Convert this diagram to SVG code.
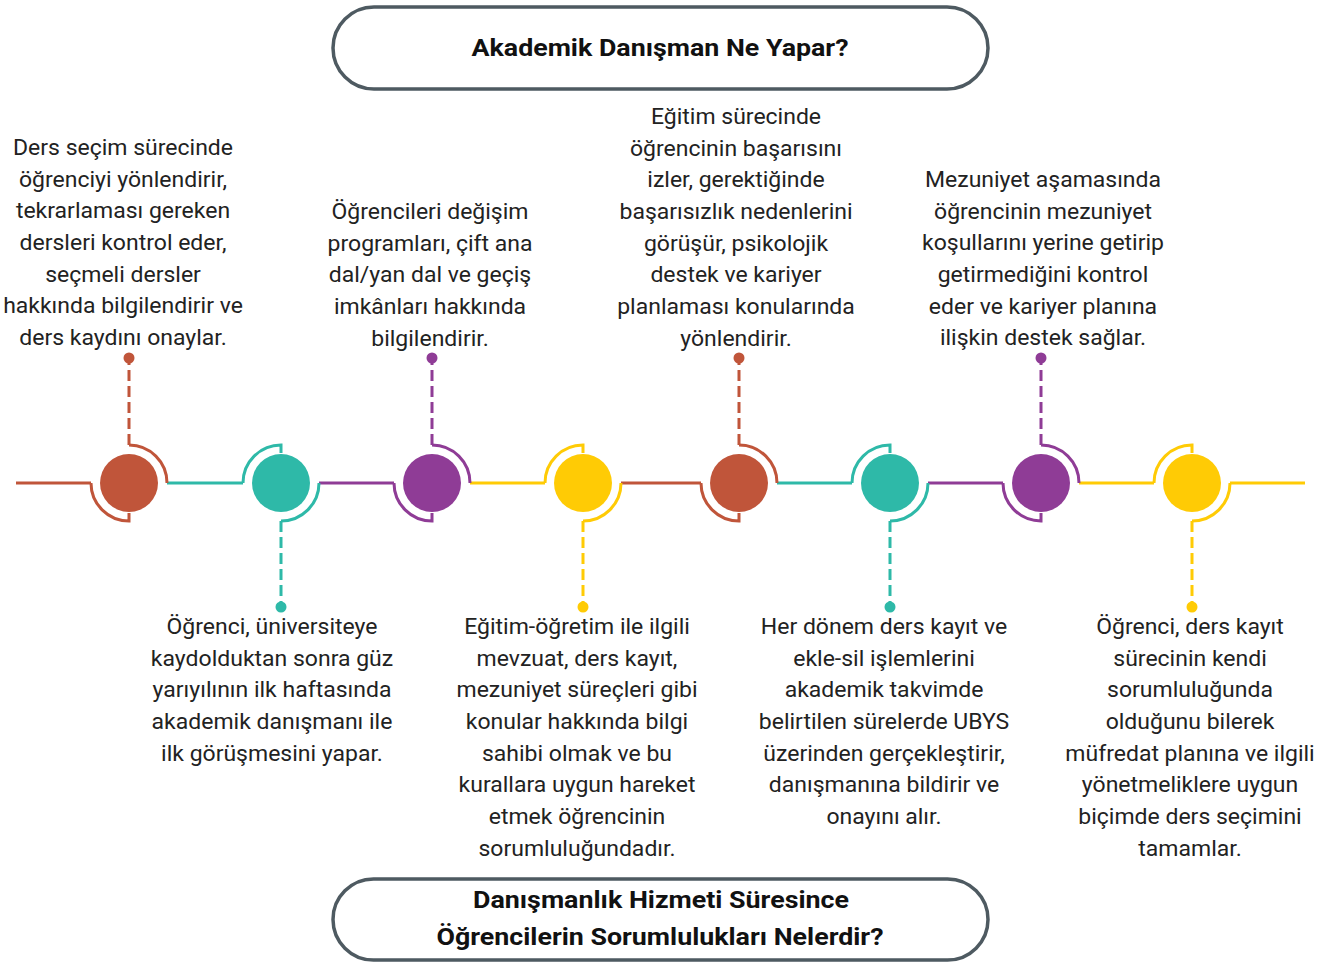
<svg xmlns="http://www.w3.org/2000/svg" width="1328" height="962" viewBox="0 0 1328 962">
<style>
.t{font-family:Roboto,"Liberation Sans",sans-serif;font-size:21.5px;fill:#222;text-anchor:middle}
.h{font-family:Roboto,"Liberation Sans",sans-serif;font-size:23px;font-weight:bold;fill:#111;text-anchor:middle}
.box{fill:#fff;stroke:#4E5A61;stroke-width:3.5}
.ln{fill:none;stroke-width:3}
.ds{fill:none;stroke-width:3;stroke-dasharray:11 5}
.r{stroke:#C0553A}.rf{fill:#C0553A}
.g{stroke:#2EB9A8}.gf{fill:#2EB9A8}
.p{stroke:#8F3C96}.pf{fill:#8F3C96}
.y{stroke:#FFCB05}.yf{fill:#FFCB05}
</style>
<rect width="1328" height="962" fill="#fff"/>
<g id="title-top">
<rect class="box" x="333" y="7" width="655" height="82" rx="41"/>
<text class="h" x="660" y="56" textLength="377" lengthAdjust="spacingAndGlyphs">Akademik Danışman Ne Yapar?</text>
</g>
<g id="title-bottom">
<rect class="box" x="333" y="879" width="655" height="81" rx="40.5"/>
<text class="h" x="661" y="908" textLength="376" lengthAdjust="spacingAndGlyphs">Danışmanlık Hizmeti Süresince</text>
<text class="h" x="660" y="945" textLength="447" lengthAdjust="spacingAndGlyphs">Öğrencilerin Sorumlulukları Nelerdir?</text>
</g>
<g id="connectors">
<path class="ln r" d="M16 483H91"/>
<path class="ln g" d="M167 483H243"/>
<path class="ln p" d="M319 483H394"/>
<path class="ln y" d="M470 483H545"/>
<path class="ln r" d="M621 483H701"/>
<path class="ln g" d="M777 483H852"/>
<path class="ln p" d="M928 483H1003"/>
<path class="ln y" d="M1079 483H1154"/>
<path class="ln y" d="M1230 483H1305"/>
</g>
<g id="node1">
<circle class="rf" cx="129" cy="483" r="29"/>
<path class="ln r" d="M91 483A38 38 0 0 0 129 521V513"/>
<path class="ln r" d="M129 445A38 38 0 0 1 167 483"/>
<path class="ds r" d="M129 445V358"/>
<circle class="rf" cx="129" cy="358" r="5.5"/>
<g transform="translate(123 0) scale(1.07 1)"><text class="t" y="155"><tspan x="0">Ders seçim sürecinde</tspan><tspan x="0" dy="31.7">öğrenciyi yönlendirir,</tspan><tspan x="0" dy="31.7">tekrarlaması gereken</tspan><tspan x="0" dy="31.7">dersleri kontrol eder,</tspan><tspan x="0" dy="31.7">seçmeli dersler</tspan><tspan x="0" dy="31.7">hakkında bilgilendirir ve</tspan><tspan x="0" dy="31.7">ders kaydını onaylar.</tspan></text></g>
</g>
<g id="node2">
<circle class="gf" cx="281" cy="483" r="29"/>
<path class="ln g" d="M243 483A38 38 0 0 1 281 445V453"/>
<path class="ln g" d="M319 483A38 38 0 0 1 281 521"/>
<path class="ds g" d="M281 521V607"/>
<circle class="gf" cx="281" cy="607" r="5.5"/>
<g transform="translate(272 0) scale(1.07 1)"><text class="t" y="634"><tspan x="0">Öğrenci, üniversiteye</tspan><tspan x="0" dy="31.7">kaydolduktan sonra güz</tspan><tspan x="0" dy="31.7">yarıyılının ilk haftasında</tspan><tspan x="0" dy="31.7">akademik danışmanı ile</tspan><tspan x="0" dy="31.7">ilk görüşmesini yapar.</tspan></text></g>
</g>
<g id="node3">
<circle class="pf" cx="432" cy="483" r="29"/>
<path class="ln p" d="M394 483A38 38 0 0 0 432 521V513"/>
<path class="ln p" d="M432 445A38 38 0 0 1 470 483"/>
<path class="ds p" d="M432 445V358"/>
<circle class="pf" cx="432" cy="358" r="5.5"/>
<g transform="translate(430 0) scale(1.07 1)"><text class="t" y="219"><tspan x="0">Öğrencileri değişim</tspan><tspan x="0" dy="31.7">programları, çift ana</tspan><tspan x="0" dy="31.7">dal/yan dal ve geçiş</tspan><tspan x="0" dy="31.7">imkânları hakkında</tspan><tspan x="0" dy="31.7">bilgilendirir.</tspan></text></g>
</g>
<g id="node4">
<circle class="yf" cx="583" cy="483" r="29"/>
<path class="ln y" d="M545 483A38 38 0 0 1 583 445V453"/>
<path class="ln y" d="M621 483A38 38 0 0 1 583 521"/>
<path class="ds y" d="M583 521V607"/>
<circle class="yf" cx="583" cy="607" r="5.5"/>
<g transform="translate(577 0) scale(1.07 1)"><text class="t" y="634"><tspan x="0">Eğitim-öğretim ile ilgili</tspan><tspan x="0" dy="31.7">mevzuat, ders kayıt,</tspan><tspan x="0" dy="31.7">mezuniyet süreçleri gibi</tspan><tspan x="0" dy="31.7">konular hakkında bilgi</tspan><tspan x="0" dy="31.7">sahibi olmak ve bu</tspan><tspan x="0" dy="31.7">kurallara uygun hareket</tspan><tspan x="0" dy="31.7">etmek öğrencinin</tspan><tspan x="0" dy="31.7">sorumluluğundadır.</tspan></text></g>
</g>
<g id="node5">
<circle class="rf" cx="739" cy="483" r="29"/>
<path class="ln r" d="M701 483A38 38 0 0 0 739 521V513"/>
<path class="ln r" d="M739 445A38 38 0 0 1 777 483"/>
<path class="ds r" d="M739 445V358"/>
<circle class="rf" cx="739" cy="358" r="5.5"/>
<g transform="translate(736 0) scale(1.07 1)"><text class="t" y="124"><tspan x="0">Eğitim sürecinde</tspan><tspan x="0" dy="31.7">öğrencinin başarısını</tspan><tspan x="0" dy="31.7">izler, gerektiğinde</tspan><tspan x="0" dy="31.7">başarısızlık nedenlerini</tspan><tspan x="0" dy="31.7">görüşür, psikolojik</tspan><tspan x="0" dy="31.7">destek ve kariyer</tspan><tspan x="0" dy="31.7">planlaması konularında</tspan><tspan x="0" dy="31.7">yönlendirir.</tspan></text></g>
</g>
<g id="node6">
<circle class="gf" cx="890" cy="483" r="29"/>
<path class="ln g" d="M852 483A38 38 0 0 1 890 445V453"/>
<path class="ln g" d="M928 483A38 38 0 0 1 890 521"/>
<path class="ds g" d="M890 521V607"/>
<circle class="gf" cx="890" cy="607" r="5.5"/>
<g transform="translate(884 0) scale(1.07 1)"><text class="t" y="634"><tspan x="0">Her dönem ders kayıt ve</tspan><tspan x="0" dy="31.7">ekle-sil işlemlerini</tspan><tspan x="0" dy="31.7">akademik takvimde</tspan><tspan x="0" dy="31.7">belirtilen sürelerde UBYS</tspan><tspan x="0" dy="31.7">üzerinden gerçekleştirir,</tspan><tspan x="0" dy="31.7">danışmanına bildirir ve</tspan><tspan x="0" dy="31.7">onayını alır.</tspan></text></g>
</g>
<g id="node7">
<circle class="pf" cx="1041" cy="483" r="29"/>
<path class="ln p" d="M1003 483A38 38 0 0 0 1041 521V513"/>
<path class="ln p" d="M1041 445A38 38 0 0 1 1079 483"/>
<path class="ds p" d="M1041 445V358"/>
<circle class="pf" cx="1041" cy="358" r="5.5"/>
<g transform="translate(1043 0) scale(1.07 1)"><text class="t" y="187"><tspan x="0">Mezuniyet aşamasında</tspan><tspan x="0" dy="31.7">öğrencinin mezuniyet</tspan><tspan x="0" dy="31.7">koşullarını yerine getirip</tspan><tspan x="0" dy="31.7">getirmediğini kontrol</tspan><tspan x="0" dy="31.7">eder ve kariyer planına</tspan><tspan x="0" dy="31.7">ilişkin destek sağlar.</tspan></text></g>
</g>
<g id="node8">
<circle class="yf" cx="1192" cy="483" r="29"/>
<path class="ln y" d="M1154 483A38 38 0 0 1 1192 445V453"/>
<path class="ln y" d="M1230 483A38 38 0 0 1 1192 521"/>
<path class="ds y" d="M1192 521V607"/>
<circle class="yf" cx="1192" cy="607" r="5.5"/>
<g transform="translate(1190 0) scale(1.07 1)"><text class="t" y="634"><tspan x="0">Öğrenci, ders kayıt</tspan><tspan x="0" dy="31.7">sürecinin kendi</tspan><tspan x="0" dy="31.7">sorumluluğunda</tspan><tspan x="0" dy="31.7">olduğunu bilerek</tspan><tspan x="0" dy="31.7">müfredat planına ve ilgili</tspan><tspan x="0" dy="31.7">yönetmeliklere uygun</tspan><tspan x="0" dy="31.7">biçimde ders seçimini</tspan><tspan x="0" dy="31.7">tamamlar.</tspan></text></g>
</g>
</svg>
